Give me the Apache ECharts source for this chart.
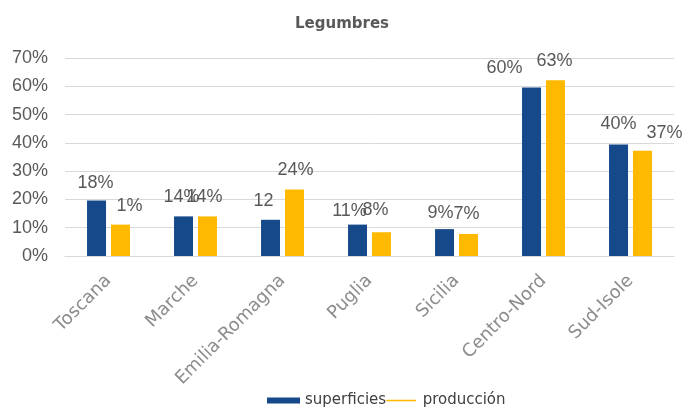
<!DOCTYPE html>
<html>
<head>
<meta charset="utf-8">
<script src="https://cdn.jsdelivr.net/npm/echarts@6/dist/echarts.min.js"></script>
<style>
html,body{margin:0;padding:0;background:#fff;}
#chart{width:684px;height:408px;}
</style>
</head>
<body>
<div id="chart"></div>
<script>
// ---- data ----
const categories = ['Toscana', 'Marche', 'Emilia-Romagna', 'Puglia', 'Sicilia', 'Centro-Nord', 'Sud-Isole'];
const superficies = [19.6, 14.0, 12.8, 11.1, 9.5, 59.6, 39.4];
const produccion = [11.1, 14.0, 23.5, 8.4, 7.8, 62.1, 37.2];
const superficiesLabels = ['18%', '14%', '12', '11%', '9%', '60%', '40%'];
const produccionLabels = ['1%', '14%', '24%', '8%', '7%', '63%', '37%'];
const yTicks = [0, 10, 20, 30, 40, 50, 60, 70];

// ---- styling (label nudges, not data) ----
const shiftSup = [[-1, 1], [-2, 0], [-7, 0], [-8, 5], [-4, 3], [-27, 0], [0, -2]];
const shiftProd = [[9, 0], [-3, 0], [1, 0], [-6, -3], [-2, -1], [-1, 0], [22, 1]];
const BLUE = '#16498A', YELLOW = '#FFB900';
const LBL = '"Liberation Sans", Arial, sans-serif';

function buildData(vals, labels, shifts) {
  return vals.map((v, i) => ({
    value: v,
    label: { formatter: labels[i], offset: shifts[i] }
  }));
}

const chart = echarts.init(document.getElementById('chart'), null, { renderer: 'canvas' });
const labelCfg = {
  show: true, position: 'top', distance: 10,
  color: '#595959', fontFamily: LBL, fontSize: 18
};
chart.setOption({
  animation: false,
  backgroundColor: '#fff',
  title: {
    text: 'Legumbres', left: 'center', top: 12,
    textStyle: { fontFamily: 'DejaVu Sans', fontWeight: 'bold', fontSize: 15, color: '#595959' }
  },
  legend: {
    left: 262, top: 388, itemGap: 0, itemWidth: 33, itemHeight: 6,
    textStyle: { fontFamily: 'DejaVu Sans', fontSize: 15, color: '#404040' },
    data: [
      { name: 'superficies', icon: 'rect' },
      { name: 'producción', icon: 'path://M0,0L0.01,0L0.01,0.01ZM0,2.2L30,2.2L30,3.8L0,3.8ZM0,6L0.01,6L0.01,5.99Z' }
    ]
  },
  grid: { left: 65, right: 10, top: 58, bottom: 152 },
  xAxis: {
    type: 'category', data: categories,
    axisLine: { lineStyle: { color: '#d9d9d9' } },
    axisTick: { show: false },
    axisLabel: { rotate: 45, interval: 0, margin: 22, color: '#8c8c8c', fontFamily: 'DejaVu Sans', fontSize: 18 }
  },
  yAxis: {
    type: 'value', min: yTicks[0], max: yTicks[yTicks.length - 1], interval: 10,
    axisLine: { show: false }, axisTick: { show: false },
    splitLine: { lineStyle: { color: '#d9d9d9' } },
    axisLabel: { formatter: '{value}%', margin: 17, color: '#595959', fontFamily: LBL, fontSize: 18 }
  },
  series: [
    { name: 'superficies', type: 'bar', barWidth: 19, barGap: '26%',
      itemStyle: { color: BLUE }, label: labelCfg,
      data: buildData(superficies, superficiesLabels, shiftSup) },
    { name: 'producción', type: 'bar', barWidth: 19,
      itemStyle: { color: YELLOW }, label: labelCfg,
      data: buildData(produccion, produccionLabels, shiftProd) }
  ]
});
</script>
</body>
</html>
